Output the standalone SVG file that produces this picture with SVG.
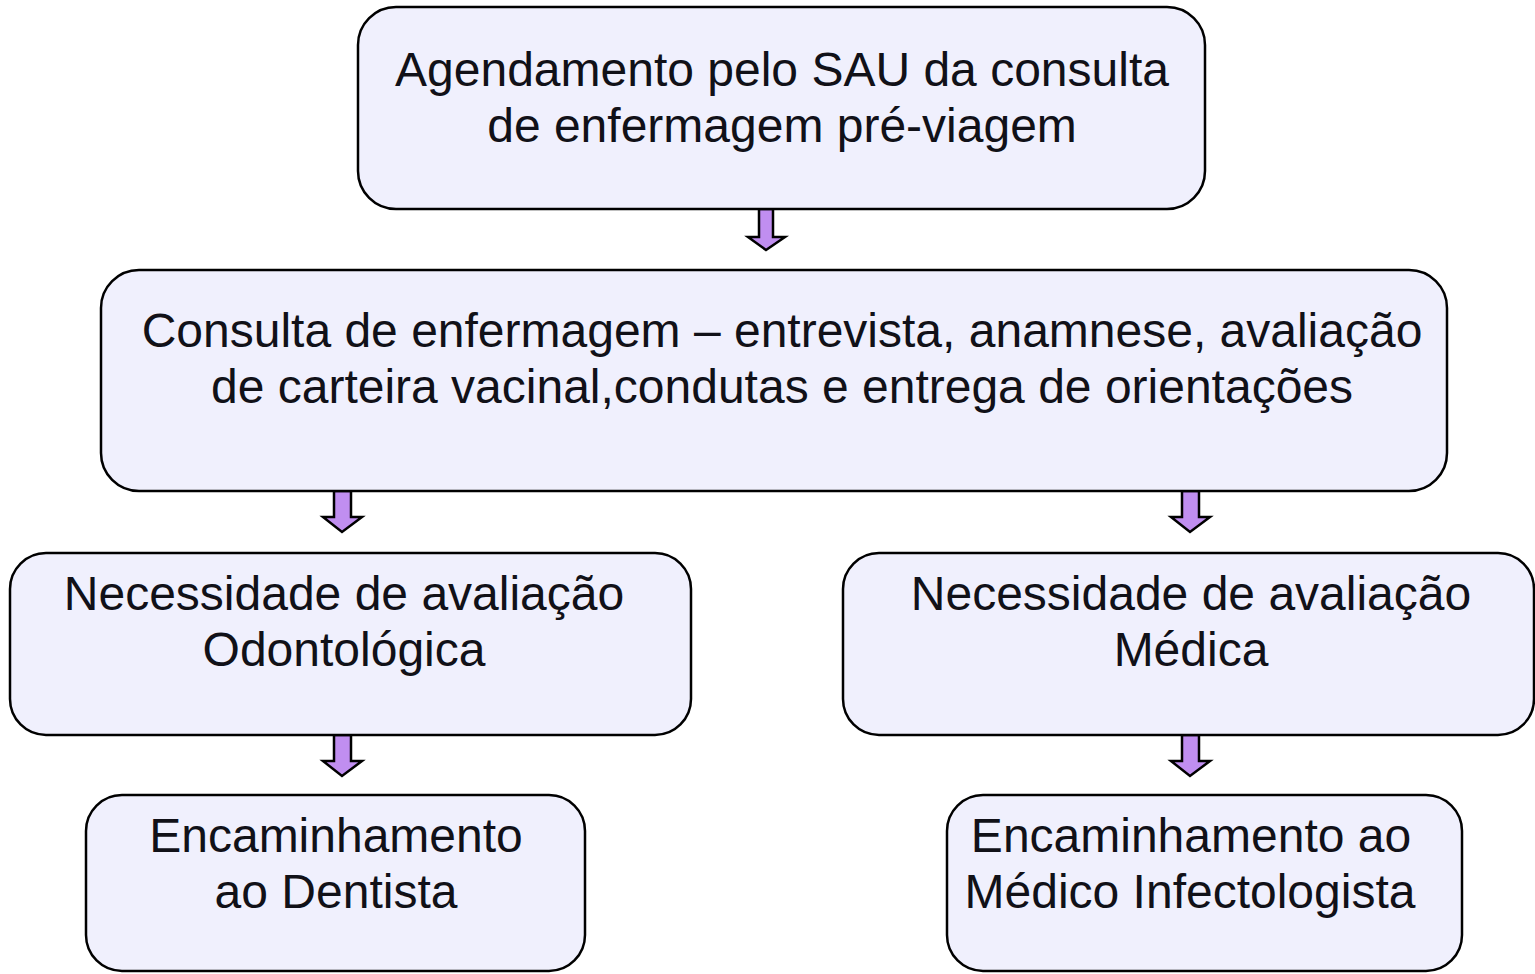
<svg xmlns="http://www.w3.org/2000/svg" width="1535" height="974" viewBox="0 0 1535 974">
<defs>
<style>
.box{fill:#f0f0fd;stroke:#000;stroke-width:2.5}
.t{font-family:"Liberation Sans",Arial,sans-serif;font-size:48px;fill:#111118;text-anchor:middle}
.arr{fill:#c08ef0;stroke:#000;stroke-width:2.5;stroke-linejoin:miter}
</style>
</defs>
<rect width="1535" height="974" fill="#fff"/>
<g id="connectors">
<path class="arr" d="M759,209 H773 V237 H785 L766,250 L748,237 H759 Z"/>
<path class="arr" d="M334,491 H351 V517 H362 L342,532 L323,517 H334 Z"/>
<path class="arr" d="M1182,491 H1199 V517 H1210 L1190,532 L1171,517 H1182 Z"/>
<path class="arr" d="M334,735 H351 V761 H362 L342,776 L323,761 H334 Z"/>
<path class="arr" d="M1182,735 H1199 V761 H1210 L1190,776 L1171,761 H1182 Z"/>
</g>
<g id="n1">
<rect class="box" x="358" y="7" width="847" height="202" rx="38"/>
<text class="t" x="782" y="86">Agendamento pelo SAU da consulta</text>
<text class="t" x="782" y="142">de enfermagem pré-viagem</text>
</g>
<g id="n2">
<rect class="box" x="101" y="270" width="1346" height="221" rx="38"/>
<text class="t" x="782" y="347">Consulta de enfermagem – entrevista, anamnese, avaliação</text>
<text class="t" x="782" y="403">de carteira vacinal,condutas e entrega de orientações</text>
</g>
<g id="n3">
<rect class="box" x="10" y="553" width="681" height="182" rx="36"/>
<text class="t" x="344" y="610">Necessidade de avaliação</text>
<text class="t" x="344" y="666">Odontológica</text>
</g>
<g id="n4">
<rect class="box" x="843" y="553" width="691" height="182" rx="36"/>
<text class="t" x="1191" y="610">Necessidade de avaliação</text>
<text class="t" x="1191" y="666">Médica</text>
</g>
<g id="n5">
<rect class="box" x="86" y="795" width="499" height="176" rx="36"/>
<text class="t" x="336" y="852">Encaminhamento</text>
<text class="t" x="336" y="908">ao Dentista</text>
</g>
<g id="n6">
<rect class="box" x="947" y="795" width="515" height="176" rx="36"/>
<text class="t" x="1191" y="852">Encaminhamento ao</text>
<text class="t" x="1190" y="908">Médico Infectologista</text>
</g>
</svg>
